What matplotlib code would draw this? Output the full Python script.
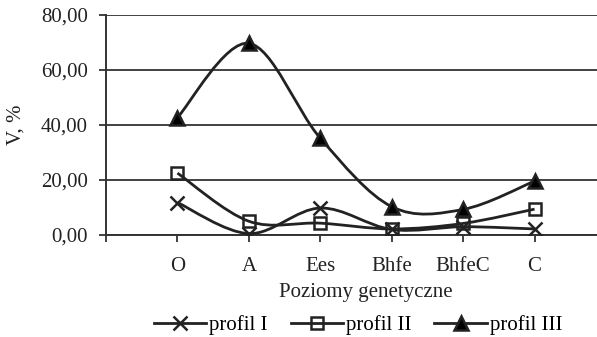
import numpy as np
import matplotlib
matplotlib.use("Agg")
import matplotlib.pyplot as plt
from matplotlib.path import Path
from matplotlib.patches import PathPatch
from matplotlib.lines import Line2D

# Data
horizons = ["O", "A", "Ees", "Bhfe", "BhfeC", "C"]
profil_1 = [11.8, 0.5, 9.8, 2.0, 3.0, 2.2]
profil_2 = [22.5, 5.0, 4.3, 2.2, 4.2, 9.4]
profil_3 = [42.7, 69.7, 35.2, 10.3, 9.3, 19.6]
yticks = [0, 20, 40, 60, 80]

plt.rcParams["font.family"] = ["Liberation Serif", "DejaVu Serif"]
plt.rcParams["font.size"] = 15


def smooth_path(x, y):
    # Excel-like smoothed line: Bezier segments with Catmull-Rom control points
    x = np.asarray(x, float)
    y = np.asarray(y, float)
    n = len(x)
    verts = [(x[0], y[0])]
    codes = [Path.MOVETO]
    for i in range(n - 1):
        p0 = np.array([x[max(i - 1, 0)], y[max(i - 1, 0)]])
        p1 = np.array([x[i], y[i]])
        p2 = np.array([x[i + 1], y[i + 1]])
        p3 = np.array([x[min(i + 2, n - 1)], y[min(i + 2, n - 1)]])
        c1 = p1 + (p2 - p0) / 6
        c2 = p2 - (p3 - p1) / 6
        verts += [tuple(c1), tuple(c2), tuple(p2)]
        codes += [Path.CURVE4] * 3
    return Path(verts, codes)


fig = plt.figure(figsize=(5.97, 3.37), dpi=100)
ax = fig.add_axes([0.1776, 0.3027, 0.8374, 0.6528])

xpos = np.arange(1, len(horizons) + 1)
series = [
    (profil_1, "x", "black", "profil I"),
    (profil_2, "s", "none", "profil II"),
    (profil_3, "^", "black", "profil III"),
]
handles = []
for vals, mk, fc, lab in series:
    ax.add_patch(PathPatch(smooth_path(xpos, vals), facecolor="none",
                           edgecolor="#222222", lw=2.0, zorder=3))
    ax.plot(xpos, vals, ls="none", marker=mk, ms=10 if mk != "s" else 9,
            mfc=fc, mec="#222222", mew=1.8, zorder=4)
    handles.append(Line2D([], [], color="#222222", lw=2.0, marker=mk,
                          ms=10 if mk != "s" else 9, mfc=fc,
                          mec="#222222", mew=1.8, label=lab))

ax.set_xlim(0, 7)
ax.set_ylim(0, 80)
ax.set_xticks(np.arange(0, 8))
ax.set_xticklabels([""] + horizons + [""])
ax.set_yticks(yticks)
ax.set_yticklabels([f"{v:.2f}".replace(".", ",") for v in yticks])
ax.grid(axis="y", color="#333333", lw=1.3)
ax.set_axisbelow(True)
for s in ["top", "right"]:
    ax.spines[s].set_visible(False)
for s in ["left", "bottom"]:
    ax.spines[s].set_color("#333333")
    ax.spines[s].set_linewidth(1.4)
ax.tick_params(axis="both", direction="out", length=5, width=1.3,
               color="#333333", labelcolor="#222222")
ax.tick_params(axis="x", pad=11)
ax.tick_params(axis="y", pad=8)
ax.set_xlabel("Poziomy genetyczne", color="#222222")
ax.xaxis.set_label_coords(0.52, -0.22)
fig.text(16 / 597, 1 - 125 / 337, "V, %", rotation=90, ha="center",
         va="center", color="#222222")

fig.legend(handles=handles, loc="center", bbox_to_anchor=(0.600, 0.035),
           ncol=3, frameon=False, handlelength=2.5, handletextpad=0.15,
           columnspacing=1.1, fontsize=15)

fig.savefig("out.png", dpi=100)
